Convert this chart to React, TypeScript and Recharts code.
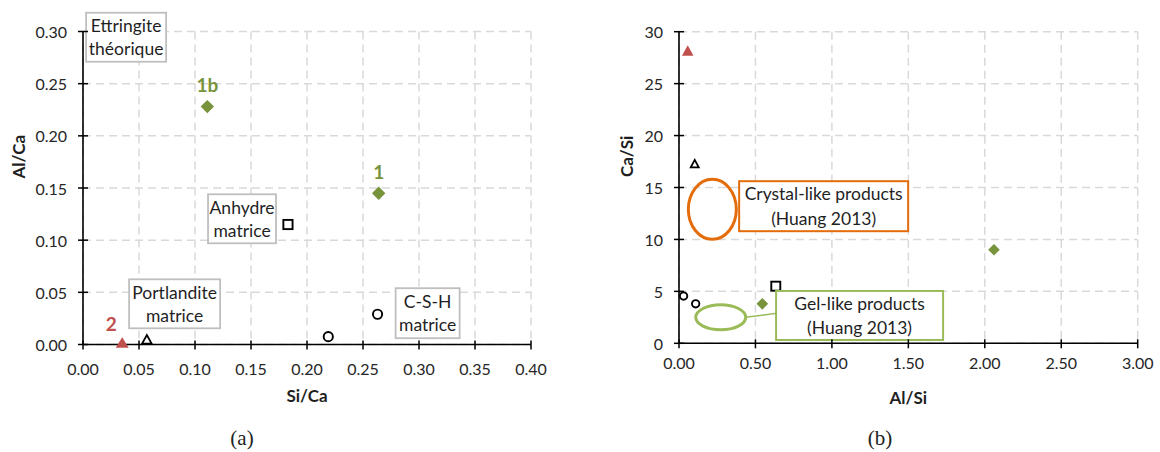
import React from 'react';
import { ScatterChart, Scatter, XAxis, YAxis, CartesianGrid, ReferenceDot } from 'recharts';

const FONT = 'Lato, "Open Sans", sans-serif';

// ---------- chart (a) data ----------
const aXTicks = [0, 0.05, 0.1, 0.15, 0.2, 0.25, 0.3, 0.35, 0.4];
const aYTicks = [0, 0.05, 0.1, 0.15, 0.2, 0.25, 0.3];
const aGreenSiCa = [0.111, 0.264];
const aGreenAlCa = [0.228, 0.145];
const aGreenLabels = ['1b', '1'];
const aRedSiCa = [0.035];
const aRedAlCa = [0.002];
const aRedLabels = ['2'];
const aPortSiCa = [0.057];
const aPortAlCa = [0.005];
const aAnhSiCa = [0.183];
const aAnhAlCa = [0.115];
const aCshSiCa = [0.219, 0.263];
const aCshAlCa = [0.0075, 0.029];
const aNoteLines = [['Ettringite', 'théorique'], ['Anhydre', 'matrice'], ['Portlandite', 'matrice'], ['C-S-H', 'matrice']];
const aNoteX = [0.0385, 0.142, 0.0818, 0.3077];
const aNoteY = [0.2945, 0.1205, 0.039, 0.03];

// ---------- chart (b) data ----------
const bXTicks = [0, 0.5, 1, 1.5, 2, 2.5, 3];
const bYTicks = [0, 5, 10, 15, 20, 25, 30];
const bRedAlSi = [0.057];
const bRedCaSi = [28.2];
const bPortAlSi = [0.103];
const bPortCaSi = [17.3];
const bAnhAlSi = [0.633];
const bAnhCaSi = [5.5];
const bCshAlSi = [0.03, 0.109];
const bCshCaSi = [4.55, 3.8];
const bGreenAlSi = [0.545, 2.06];
const bGreenCaSi = [3.8, 9.0];
const bCrystalLines = ['Crystal-like products', '(Huang 2013)'];
const bGelLines = ['Gel-like products', '(Huang 2013)'];
const bCrystalEllipse = { x: 0.218, y: 12.9 };
const bCrystalBox = { x: 0.946, y: 13.2 };
const bGelEllipse = { x: 0.273, y: 2.5 };
const bGelBox = { x: 1.181, y: 2.68 };

// sizes/styles (not data)
const aNoteW = [80, 68, 91, 64];
const aNoteH = [49, 49, 49, 50];

const zip = (xs: number[], ys: number[], labels?: string[]) =>
  xs.map((x, i) => ({ x, y: ys[i], label: labels ? labels[i] : undefined }));

const GREEN = '#77933C';
const RED = '#C0504D';
const TICK_COLOR = '#262626';
const TICK_FS = 16;
const BOX_FS = 17.5;

const makeXTick = (dy: number, digits: number) => (props: any) => {
  const { x, y, payload } = props;
  return (
    <g>
      <line x1={x} x2={x} y1={y - 4} y2={y + 5} stroke="#000" strokeWidth={1.5} />
      <text x={x} y={y + dy} textAnchor="middle" dominantBaseline="central" fontSize={TICK_FS} fill={TICK_COLOR} fontFamily={FONT}>
        {Number(payload.value).toFixed(digits)}
      </text>
    </g>
  );
};

const makeYTick = (dx: number, digits: number) => (props: any) => {
  const { x, y, payload } = props;
  return (
    <g>
      <line x1={x - 5} x2={x + 5} y1={y} y2={y} stroke="#000" strokeWidth={1.5} />
      <text x={x - dx} y={y} textAnchor="end" dominantBaseline="central" fontSize={TICK_FS} fill={TICK_COLOR} fontFamily={FONT}>
        {Number(payload.value).toFixed(digits)}
      </text>
    </g>
  );
};

const diamond = (h: number) => (props: any) => {
  const { cx, cy, payload } = props;
  return (
    <g>
      <path d={`M${cx},${cy - h} L${cx + h},${cy} L${cx},${cy + h} L${cx - h},${cy} Z`} fill={GREEN} />
      {payload && payload.label ? (
        <text x={cx} y={cy - 22} textAnchor="middle" dominantBaseline="central" fontSize={19} fontWeight="bold" fill={GREEN} fontFamily={FONT}>
          {payload.label}
        </text>
      ) : null}
    </g>
  );
};

const redTriangle = (w: number, h: number) => (props: any) => {
  const { cx, cy, payload } = props;
  return (
    <g>
      <path d={`M${cx},${cy - h / 2} L${cx + w / 2},${cy + h / 2} L${cx - w / 2},${cy + h / 2} Z`} fill={RED} />
      {payload && payload.label ? (
        <text x={cx - 11} y={cy - 19} textAnchor="middle" dominantBaseline="central" fontSize={19} fontWeight="bold" fill={RED} fontFamily={FONT}>
          {payload.label}
        </text>
      ) : null}
    </g>
  );
};

const openTriangle = (w: number, h: number) => (props: any) => {
  const { cx, cy } = props;
  return <path d={`M${cx},${cy - h / 2} L${cx + w / 2},${cy + h / 2} L${cx - w / 2},${cy + h / 2} Z`} fill="#fff" stroke="#000" strokeWidth={1.8} strokeLinejoin="miter" />;
};

const openSquare = (s: number) => (props: any) => {
  const { cx, cy } = props;
  return <rect x={cx - s / 2} y={cy - s / 2} width={s} height={s} fill="#fff" stroke="#000" strokeWidth={1.9} />;
};

const openCircle = (r: number) => (props: any) => {
  const { cx, cy } = props;
  return <circle cx={cx} cy={cy} r={r} fill="#fff" stroke="#000" strokeWidth={1.9} />;
};

const noteBox = (lines: string[], w: number, h: number, stroke: string, sw: number, lh: number, fs: number) => (props: any) => {
  const { cx, cy } = props;
  return (
    <g>
      <rect x={cx - w / 2} y={cy - h / 2} width={w} height={h} fill="#fff" stroke={stroke} strokeWidth={sw} />
      {lines.map((t, i) => (
        <text key={i} x={cx} y={cy + (i - (lines.length - 1) / 2) * lh} textAnchor="middle" dominantBaseline="central" fontSize={fs} fill="#1f1f1f" fontFamily={FONT}>
          {t}
        </text>
      ))}
    </g>
  );
};

const ellipseShape = (rx: number, ry: number, stroke: string, connector?: boolean) => (props: any) => {
  const { cx, cy } = props;
  return (
    <g>
      <ellipse cx={cx} cy={cy} rx={rx} ry={ry} fill="none" stroke={stroke} strokeWidth={3} />
      {connector ? <line x1={cx + rx} y1={cy} x2={cx + rx + 31} y2={cy - 4} stroke={stroke} strokeWidth={1.5} /> : null}
    </g>
  );
};

const yTitle = (text: string, dxFromAxisBox: number, frac: number) => (props: any) => {
  const vb = props.viewBox || { x: 0, y: 0, width: 0, height: 0 };
  const x = vb.x + dxFromAxisBox;
  const y = vb.y + vb.height * frac;
  return (
    <text x={x} y={y} transform={`rotate(-90 ${x} ${y})`} textAnchor="middle" dominantBaseline="central" fontSize={17} fontWeight="bold" fill="#1f1f1f" fontFamily={FONT}>
      {text}
    </text>
  );
};

const xTitle = (text: string, dyFromAxisTop: number) => (props: any) => {
  const vb = props.viewBox || { x: 0, y: 0, width: 0, height: 0 };
  const x = vb.x + vb.width / 2;
  const y = vb.y + dyFromAxisTop;
  return (
    <text x={x} y={y} textAnchor="middle" dominantBaseline="central" fontSize={17} fontWeight="bold" fill="#1f1f1f" fontFamily={FONT}>
      {text}
    </text>
  );
};

const gridProps = { stroke: '#D9D9D9', strokeDasharray: '8 5', strokeWidth: 1.5 };
const axisLine = { stroke: '#000', strokeWidth: 1.6 };

function ChartA() {
  return (
    <ScatterChart width={580} height={452} margin={{ top: 31.5, right: 49, bottom: 49.5, left: 23 }}>
      <CartesianGrid {...gridProps} />
      <XAxis
        type="number"
        dataKey="x"
        domain={[0, 0.4]}
        ticks={aXTicks}
        interval={0}
        height={58}
        tickSize={0}
        tickMargin={0}
        tickLine={false}
        axisLine={axisLine}
        tick={makeXTick(23.5, 2)}
        label={{ content: xTitle('Si/Ca', 51) }}
      />
      <YAxis
        type="number"
        dataKey="y"
        domain={[0, 0.3]}
        ticks={aYTicks}
        interval={0}
        width={60}
        tickSize={0}
        tickMargin={0}
        tickLine={false}
        axisLine={axisLine}
        tick={makeYTick(16, 2)}
        label={{ content: yTitle('Al/Ca', -4, 0.4) }}
      />
      <Scatter data={zip(aCshSiCa, aCshAlCa)} shape={openCircle(4.6)} isAnimationActive={false} />
      <Scatter data={zip(aAnhSiCa, aAnhAlCa)} shape={openSquare(9.2)} isAnimationActive={false} />
      <Scatter data={zip(aPortSiCa, aPortAlCa)} shape={openTriangle(9.5, 8.5)} isAnimationActive={false} />
      <Scatter data={zip(aRedSiCa, aRedAlCa, aRedLabels)} shape={redTriangle(13, 10.5)} isAnimationActive={false} />
      <Scatter data={zip(aGreenSiCa, aGreenAlCa, aGreenLabels)} shape={diamond(6.7)} isAnimationActive={false} />
      {aNoteLines.map((lines, i) => (
        <ReferenceDot key={i} x={aNoteX[i]} y={aNoteY[i]} r={1} ifOverflow="visible" shape={noteBox(lines, aNoteW[i], aNoteH[i], '#BFBFBF', 1.8, 23, BOX_FS)} />
      ))}
    </ScatterChart>
  );
}

function ChartB() {
  return (
    <ScatterChart width={580} height={452} margin={{ top: 31.7, right: 22.3, bottom: 50.7, left: 39 }}>
      <CartesianGrid {...gridProps} />
      <XAxis
        type="number"
        dataKey="x"
        domain={[0, 3]}
        ticks={bXTicks}
        interval={0}
        height={58}
        tickSize={0}
        tickMargin={0}
        tickLine={false}
        axisLine={axisLine}
        tick={makeXTick(19, 2)}
        label={{ content: xTitle('Al/Si', 54) }}
      />
      <YAxis
        type="number"
        dataKey="y"
        domain={[0, 30]}
        ticks={bYTicks}
        interval={0}
        width={60}
        tickSize={0}
        tickMargin={0}
        tickLine={false}
        axisLine={axisLine}
        tick={makeYTick(16, 0)}
        label={{ content: yTitle('Ca/Si', 7.5, 0.4) }}
      />
      <ReferenceDot x={bCrystalEllipse.x} y={bCrystalEllipse.y} r={1} ifOverflow="visible" shape={ellipseShape(24, 30, '#E46C0A')} />
      <ReferenceDot x={bGelEllipse.x} y={bGelEllipse.y} r={1} ifOverflow="visible" shape={ellipseShape(25, 12.5, '#9BBB59', true)} />
      <Scatter data={zip(bCshAlSi, bCshCaSi)} shape={openCircle(3.7)} isAnimationActive={false} />
      <Scatter data={zip(bAnhAlSi, bAnhCaSi)} shape={openSquare(9)} isAnimationActive={false} />
      <Scatter data={zip(bPortAlSi, bPortCaSi)} shape={openTriangle(8, 7.5)} isAnimationActive={false} />
      <Scatter data={zip(bRedAlSi, bRedCaSi)} shape={redTriangle(11.5, 10.5)} isAnimationActive={false} />
      <Scatter data={zip(bGreenAlSi, bGreenCaSi)} shape={diamond(5.8)} isAnimationActive={false} />
      <ReferenceDot x={bCrystalBox.x} y={bCrystalBox.y} r={1} ifOverflow="visible" shape={noteBox(bCrystalLines, 169, 50, '#E46C0A', 2, 25, BOX_FS)} />
      <ReferenceDot x={bGelBox.x} y={bGelBox.y} r={1} ifOverflow="visible" shape={noteBox(bGelLines, 167, 49, '#9BBB59', 2, 24.5, BOX_FS)} />
    </ScatterChart>
  );
}

export default function App() {
  return (
    <div style={{ position: 'absolute', left: 0, top: 0, width: 1160, height: 452, background: '#fff', overflow: 'hidden' }}>
      <div style={{ position: 'absolute', left: 0, top: 0 }}>
        <ChartA />
      </div>
      <div style={{ position: 'absolute', left: 580, top: 0 }}>
        <ChartB />
      </div>
      <div style={{ position: 'absolute', left: 242, top: 438, transform: 'translate(-50%, -50%)', fontFamily: '"Liberation Serif", "DejaVu Serif", serif', fontSize: 21, color: '#222' }}>
        (a)
      </div>
      <div style={{ position: 'absolute', left: 880, top: 438, transform: 'translate(-50%, -50%)', fontFamily: '"Liberation Serif", "DejaVu Serif", serif', fontSize: 21, color: '#222' }}>
        (b)
      </div>
    </div>
  );
}
